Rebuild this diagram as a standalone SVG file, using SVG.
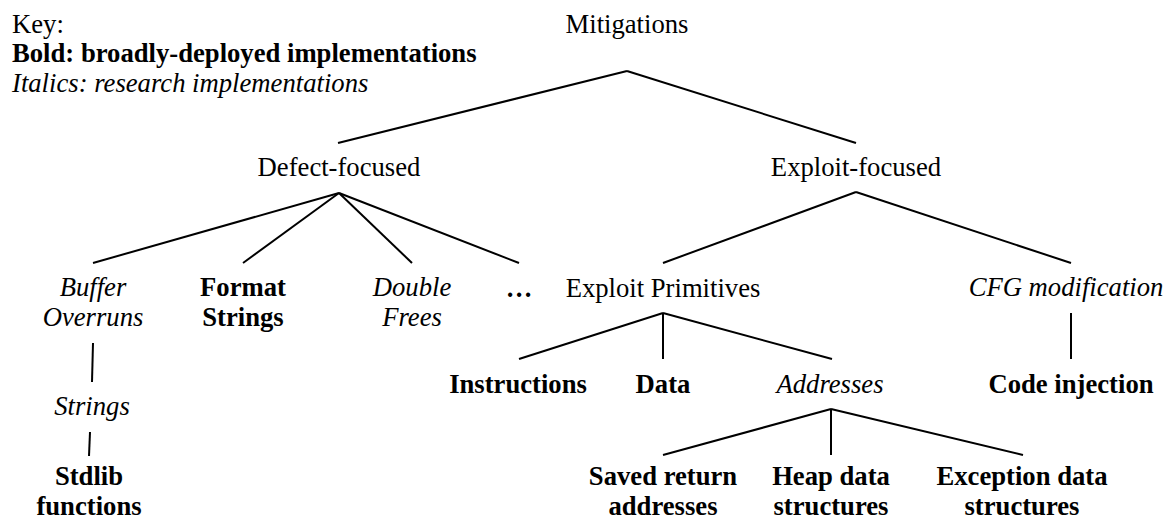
<svg xmlns="http://www.w3.org/2000/svg" width="1174" height="521" viewBox="0 0 1174 521">
<style>
text{font-family:"Liberation Serif","Times New Roman",serif;font-size:26.67px;fill:#000}
.c{text-anchor:middle}
.b{font-weight:bold}
.i{font-style:italic}
.ln line{stroke:#000;stroke-width:2;stroke-linecap:butt}
</style>
<rect width="1174" height="521" fill="#fff"/>
<g id="key">
<text x="12" y="33">Key:</text>
<text x="12" y="62" class="b">Bold: broadly-deployed implementations</text>
<text x="12" y="92" class="i">Italics: research implementations</text>
</g>
<g class="ln" id="connectors">
<line x1="627" y1="71" x2="338" y2="143"/>
<line x1="627" y1="71" x2="856" y2="143"/>
<line x1="339" y1="193" x2="93" y2="263"/>
<line x1="339" y1="193" x2="243" y2="263"/>
<line x1="339" y1="193" x2="412" y2="263"/>
<line x1="339" y1="193" x2="519" y2="263"/>
<line x1="856" y1="192" x2="663" y2="263"/>
<line x1="856" y1="192" x2="1071" y2="263"/>
<line x1="663" y1="313" x2="519" y2="359"/>
<line x1="663" y1="313" x2="663" y2="359"/>
<line x1="663" y1="313" x2="832" y2="359"/>
<line x1="1071" y1="313" x2="1071" y2="359"/>
<line x1="831" y1="409" x2="663" y2="455"/>
<line x1="831" y1="409" x2="831" y2="455"/>
<line x1="831" y1="409" x2="1023" y2="455"/>
<line x1="93" y1="343" x2="92" y2="382"/>
<line x1="90" y1="432" x2="89" y2="456"/>
</g>
<g id="mitigations"><text x="627" y="33" class="c">Mitigations</text></g>
<g id="defect"><text x="339" y="176" class="c">Defect-focused</text></g>
<g id="exploit"><text x="856" y="176" class="c">Exploit-focused</text></g>
<g id="buffer"><text x="93" y="296" class="c i">Buffer</text><text x="93" y="326" class="c i">Overruns</text></g>
<g id="format"><text x="243" y="296" class="c b">Format</text><text x="243" y="326" class="c b">Strings</text></g>
<g id="double"><text x="412" y="296" class="c i">Double</text><text x="412" y="326" class="c i">Frees</text></g>
<g id="more"><text x="519" y="297" class="c b">…</text></g>
<g id="primitives"><text x="663" y="297" class="c">Exploit Primitives</text></g>
<g id="cfg"><text x="1066" y="296" class="c i">CFG modification</text></g>
<g id="strings"><text x="92" y="415" class="c i">Strings</text></g>
<g id="stdlib"><text x="89" y="485" class="c b">Stdlib</text><text x="89" y="515" class="c b">functions</text></g>
<g id="instructions"><text x="518" y="393" class="c b">Instructions</text></g>
<g id="data"><text x="663" y="393" class="c b">Data</text></g>
<g id="addresses"><text x="830" y="393" class="c i">Addresses</text></g>
<g id="code"><text x="1071" y="393" class="c b">Code injection</text></g>
<g id="saved"><text x="663" y="485" class="c b">Saved return</text><text x="663" y="515" class="c b">addresses</text></g>
<g id="heap"><text x="831" y="485" class="c b">Heap data</text><text x="831" y="515" class="c b">structures</text></g>
<g id="exception"><text x="1022" y="485" class="c b">Exception data</text><text x="1022" y="515" class="c b">structures</text></g>
</svg>
